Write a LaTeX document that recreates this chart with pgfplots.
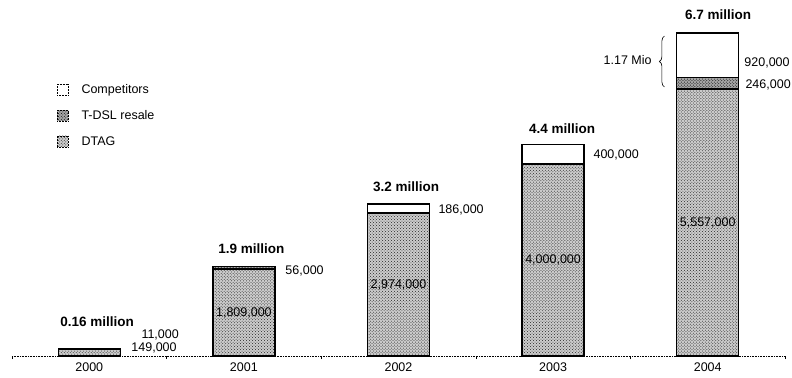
\documentclass[border=0pt]{standalone}
\usepackage{fontspec}
\setmainfont{Liberation Sans}
\usepackage{pgfplots}
\usepackage{pgfplotstable}
\pgfplotsset{compat=1.18}
\usetikzlibrary{patterns,decorations.pathreplacing}
\pgfplotstableread{
x dtag tdsl comp
0 0.149 0.011 0
1 1.809 0.056 0
2 2.974 0 0.186
3 4.000 0 0.400
4 5.557 0.246 0.920
}\datatable
\begin{document}
\begin{tikzpicture}[font=\fontsize{12.5bp}{15bp}\selectfont]
\path[use as bounding box] (-12bp,-22bp) rectangle (780bp,356bp);
\begin{axis}[
 at={(0,0)}, anchor=south west,
 scale only axis, width=773bp, height=356bp,
 xmin=-0.5, xmax=4.5, ymin=0, ymax=7.41,
 ybar stacked, bar width=0.4,
 axis y line=none, axis x line*=bottom,
 x axis line style={-, densely dotted, line width=0.6pt},
 xtick={0,...,4}, xticklabels={2000,2001,2002,2003,2004},
 major tick length=0pt,
 minor xtick={-0.5,0.5,...,4.5}, minor tick length=3bp, tick align=outside,
 minor tick style={black, line width=0.6pt},
 xticklabel style={inner sep=0pt, yshift=-7bp},
 clip=false,
 reverse legend,
 legend style={at={(0.058,0.768)}, anchor=north west, draw=none, fill=none, inner sep=0pt, row sep=11.5bp, font=\fontsize{12.5bp}{15bp}\selectfont,
   /tikz/every odd column/.append style={column sep=11bp}},
 legend cell align=left,
 legend image code/.code={\draw[#1, densely dotted, line width=0.5pt] (0bp,-5bp) rectangle (11bp,6bp);},
 after end axis/.code={
  \node[font=\fontsize{13.5bp}{15bp}\selectfont\bfseries] at (axis cs:0.05,0.708) {0.16 million};
  \node[anchor=west] at (axis cs:0.315,0.448) {11,000};
  \node[anchor=west] at (axis cs:0.25,0.167) {149,000};
  \node[font=\fontsize{13.5bp}{15bp}\selectfont\bfseries] at (axis cs:1.049,2.238) {1.9 million};
  \node[anchor=west] at (axis cs:1.246,1.78) {56,000};
  \node at (axis cs:1,0.9045) {1,809,000};
  \node[font=\fontsize{13.5bp}{15bp}\selectfont\bfseries] at (axis cs:2.049,3.518) {3.2 million};
  \node[anchor=west] at (axis cs:2.236,3.04) {186,000};
  \node at (axis cs:2,1.487) {2,974,000};
  \node[font=\fontsize{13.5bp}{15bp}\selectfont\bfseries] at (axis cs:3.058,4.725) {4.4 million};
  \node[anchor=west] at (axis cs:3.239,4.184) {400,000};
  \node at (axis cs:3,2.0) {4,000,000};
  \node[font=\fontsize{13.5bp}{15bp}\selectfont\bfseries] at (axis cs:4.067,7.098) {6.7 million};
  \node[anchor=west] at (axis cs:4.215,6.1) {920,000};
  \node[anchor=west] at (axis cs:4.222,5.64) {246,000};
  \node at (axis cs:4,2.7785) {5,557,000};
  \draw[decorate, decoration={brace, amplitude=5bp}, line width=0.6pt] (axis cs:3.72,5.6) -- (axis cs:3.72,6.66);
  \node[anchor=east] at (axis cs:3.66,6.16) {1.17 Mio};
 },
]
\addplot[draw=black, line width=1.4pt, fill=black!20, postaction={pattern=crosshatch dots, pattern color=black!85}] table[x=x,y=dtag]{\datatable};
\addlegendentry{DTAG}
\addplot[draw=black, line width=1.4pt, fill=black!35, postaction={pattern=crosshatch dots, pattern color=black}] table[x=x,y=tdsl]{\datatable};
\addlegendentry{T-DSL resale}
\addplot[draw=black, line width=1.4pt, fill=white] table[x=x,y=comp]{\datatable};
\addlegendentry{Competitors}
\end{axis}
\end{tikzpicture}
\end{document}
